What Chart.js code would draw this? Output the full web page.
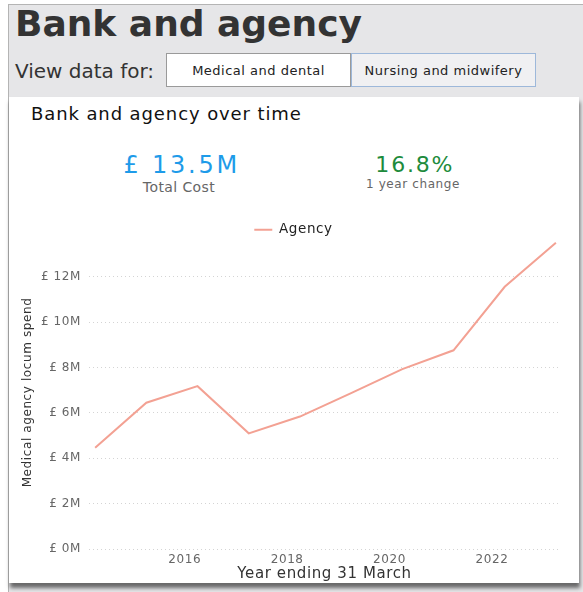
<!DOCTYPE html>
<html>
<head>
<meta charset="utf-8">
<title>Bank and agency</title>
<script src="https://cdn.jsdelivr.net/npm/chart.js@4.4.0/dist/chart.umd.min.js"></script>
<style>
  body { margin: 0; background: #fff; font-family: "DejaVu Sans", Verdana, sans-serif; overflow: hidden; }
  .panel { position: absolute; left: 8px; top: 4px; width: 620px; height: 620px; background: #e6e6e8;
           border-left: 1px solid #b4b4b4; border-top: 1px solid #b4b4b4; }
  .heading { position: absolute; left: 15px; top: 6px; margin: 0; font-size: 36px; line-height: 1;
             font-weight: bold; color: #333; white-space: nowrap; }
  .view-label { position: absolute; left: 15px; top: 61px; font-size: 20px; line-height: 1; color: #333; }
  .btn { position: absolute; top: 53px; width: 185px; height: 34px; box-sizing: border-box;
         display: flex; align-items: center; justify-content: center; font-size: 13px;
         letter-spacing: 0.5px; color: #222; }
  .btn.medical { left: 166px; background: #fff; border: 1px solid #9a9a9a; }
  .btn.nursing { left: 351px; background: #f0f0f2; border: 1px solid #9db8da; }
  .card { position: absolute; left: 9px; top: 97px; width: 570px; height: 486px; background: #fff;
          box-shadow: 1px 5px 4px rgba(0, 0, 0, 0.55); }
  .card-title { position: absolute; left: 31px; top: 105px; font-size: 18px; line-height: 1;
                letter-spacing: 0.9px; color: #111; }
  .kpi { position: absolute; width: 220px; text-align: center; line-height: 1; white-space: nowrap; }
  #totalValue { left: 69px; top: 153px; font-size: 24px; letter-spacing: 2.8px; padding-left: 2.8px; color: #1e9be9; }
  #totalCaption { left: 69px; top: 180px; font-size: 14px; letter-spacing: 0.4px; color: #666; }
  #changeValue { left: 303px; top: 154px; font-size: 22px; letter-spacing: 1.8px; padding-left: 1.8px; color: #1e8b3c; }
  #changeCaption { left: 303px; top: 178px; font-size: 12px; letter-spacing: 0.6px; color: #666; }
  #chartBox { position: absolute; left: 9px; top: 213px; width: 570px; height: 370px; }
</style>
</head>
<body>
<div class="panel"></div>
<h1 class="heading">Bank and agency</h1>
<div class="view-label">View data for:</div>
<div class="btn medical">Medical and dental</div>
<div class="btn nursing">Nursing and midwifery</div>

<div class="card"></div>
<div class="card-title">Bank and agency over time</div>
<div class="kpi" id="totalValue"></div>
<div class="kpi" id="totalCaption">Total Cost</div>
<div class="kpi" id="changeValue"></div>
<div class="kpi" id="changeCaption">1 year change</div>

<div id="chartBox"><canvas id="spendChart"></canvas></div>

<script>
// Years ending 31 March, agency spend in £ millions
const years = [2014, 2015, 2016, 2017, 2018, 2019, 2020, 2021, 2022, 2023];
const agencySpend = [4.46, 6.45, 7.18, 5.10, 5.84, 6.87, 7.93, 8.76, 11.56, 13.5];
const yearTicks = [2016, 2018, 2020, 2022];
const spendTicks = [0, 2, 4, 6, 8, 10, 12];

const FONT = '"DejaVu Sans", Verdana, sans-serif';

// Headline figures from the latest two years
const latest = agencySpend[agencySpend.length - 1];
const previous = agencySpend[agencySpend.length - 2];
document.getElementById('totalValue').textContent = `£ ${latest.toFixed(1)}M`;
document.getElementById('changeValue').textContent = `${((latest / previous - 1) * 100).toFixed(1)}%`;

// Each point sits at the 31 March year end
const points = years.map((y, i) => ({ x: y + 0.25, y: agencySpend[i] }));

// Slightly wider text on the canvas; the context resets on resize so set it each pass
const textSpacing = {
    id: 'textSpacing',
    beforeLayout(chart) { chart.ctx.letterSpacing = '0.6px'; },
    beforeDraw(chart) { chart.ctx.letterSpacing = '0.6px'; }
};

const ctx = document.getElementById('spendChart').getContext('2d');
new Chart(ctx, {
    type: 'line',
    data: {
        datasets: [{
            label: 'Agency',
            data: points,
            borderColor: '#f3a193',
            backgroundColor: '#f3a193',
            borderWidth: 2,
            pointRadius: 0,
            tension: 0,
            fill: false
        }]
    },
    plugins: [textSpacing],
    options: {
        responsive: true,
        maintainAspectRatio: false,
        animation: false,
        layout: {
            padding: { left: 18, right: 19, top: 0, bottom: 0 }
        },
        plugins: {
            tooltip: { enabled: false },
            legend: {
                position: 'top',
                maxHeight: 23,
                labels: {
                    usePointStyle: true,
                    pointStyle: 'line',
                    pointStyleWidth: 18,
                    padding: 10,
                    color: '#222',
                    font: { family: FONT, size: 13.5 }
                }
            }
        },
        scales: {
            x: {
                type: 'linear',
                min: 2014.13,
                max: 2023.33,
                afterBuildTicks: scale => {
                    scale.ticks = yearTicks.map(v => ({ value: v }));
                },
                afterFit: scale => { scale.height = 34; },
                ticks: {
                    padding: 4,
                    color: '#666',
                    font: { family: FONT, size: 12 },
                    callback: v => String(v)
                },
                grid: { display: false, drawTicks: false },
                border: { display: false },
                title: {
                    display: true,
                    text: 'Year ending 31 March',
                    color: '#333',
                    font: { family: FONT, size: 15 },
                    padding: { top: 0, bottom: 0 }
                }
            },
            y: {
                min: 0,
                max: 13.8,
                afterBuildTicks: scale => {
                    scale.ticks = spendTicks.map(v => ({ value: v }));
                },
                afterFit: scale => { scale.width = 62; },
                ticks: {
                    padding: 8,
                    color: '#666',
                    font: { family: FONT, size: 12 },
                    callback: v => `£ ${v}M`
                },
                grid: {
                    color: '#d4d4d4',
                    lineWidth: 1,
                    drawTicks: false
                },
                border: { display: false, dash: [1, 3] },
                title: {
                    display: true,
                    text: 'Medical agency locum spend',
                    color: '#333',
                    font: { family: FONT, size: 12 },
                    padding: { top: -6, bottom: 0 }
                }
            }
        }
    }
});
</script>
</body>
</html>
